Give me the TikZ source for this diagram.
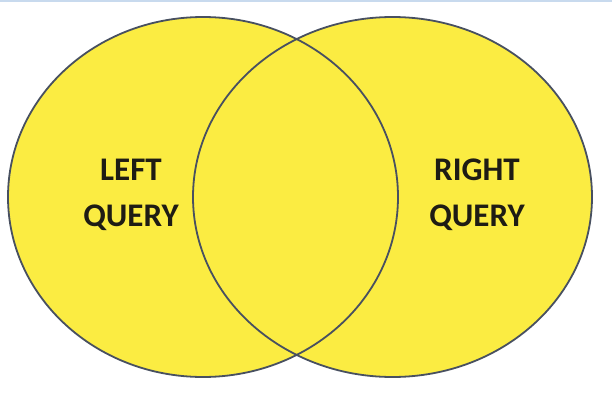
\documentclass[tikz,border=0pt]{standalone}
\usepackage{fontspec}
\setmainfont{Carlito}
\definecolor{vfill}{RGB}{251,236,66}
\definecolor{vline}{RGB}{72,80,96}
\definecolor{topband}{RGB}{200,218,238}
\definecolor{vtext}{RGB}{30,28,20}
\tikzset{
  setfill/.style={fill=vfill, draw=none},
  setline/.style={draw=vline, line width=1.8pt},
  setlabel/.style={font=\fontsize{33}{46}\selectfont\bfseries, text=vtext, align=center, inner sep=0pt}
}
\begin{document}
\begin{tikzpicture}[x=1pt,y=-1pt]
\useasboundingbox (0,0) rectangle (612,404);
\fill[white] (0,0) rectangle (612,404);
\fill[topband] (0,0) rectangle (612,2.5);
\coordinate (cl) at (203,197);
\coordinate (cr) at (392.5,197);
\fill[setfill] (cl) ellipse [x radius=195, y radius=180];
\fill[setfill] (cr) ellipse [x radius=199.5, y radius=180];
\draw[setline] (cl) ellipse [x radius=195, y radius=180];
\draw[setline] (cr) ellipse [x radius=199.5, y radius=180];
\node[setlabel] (left) at (131,195) {LEFT\\QUERY};
\node[setlabel] (right) at (477,195) {RIGHT\\QUERY};
\end{tikzpicture}
\end{document}
